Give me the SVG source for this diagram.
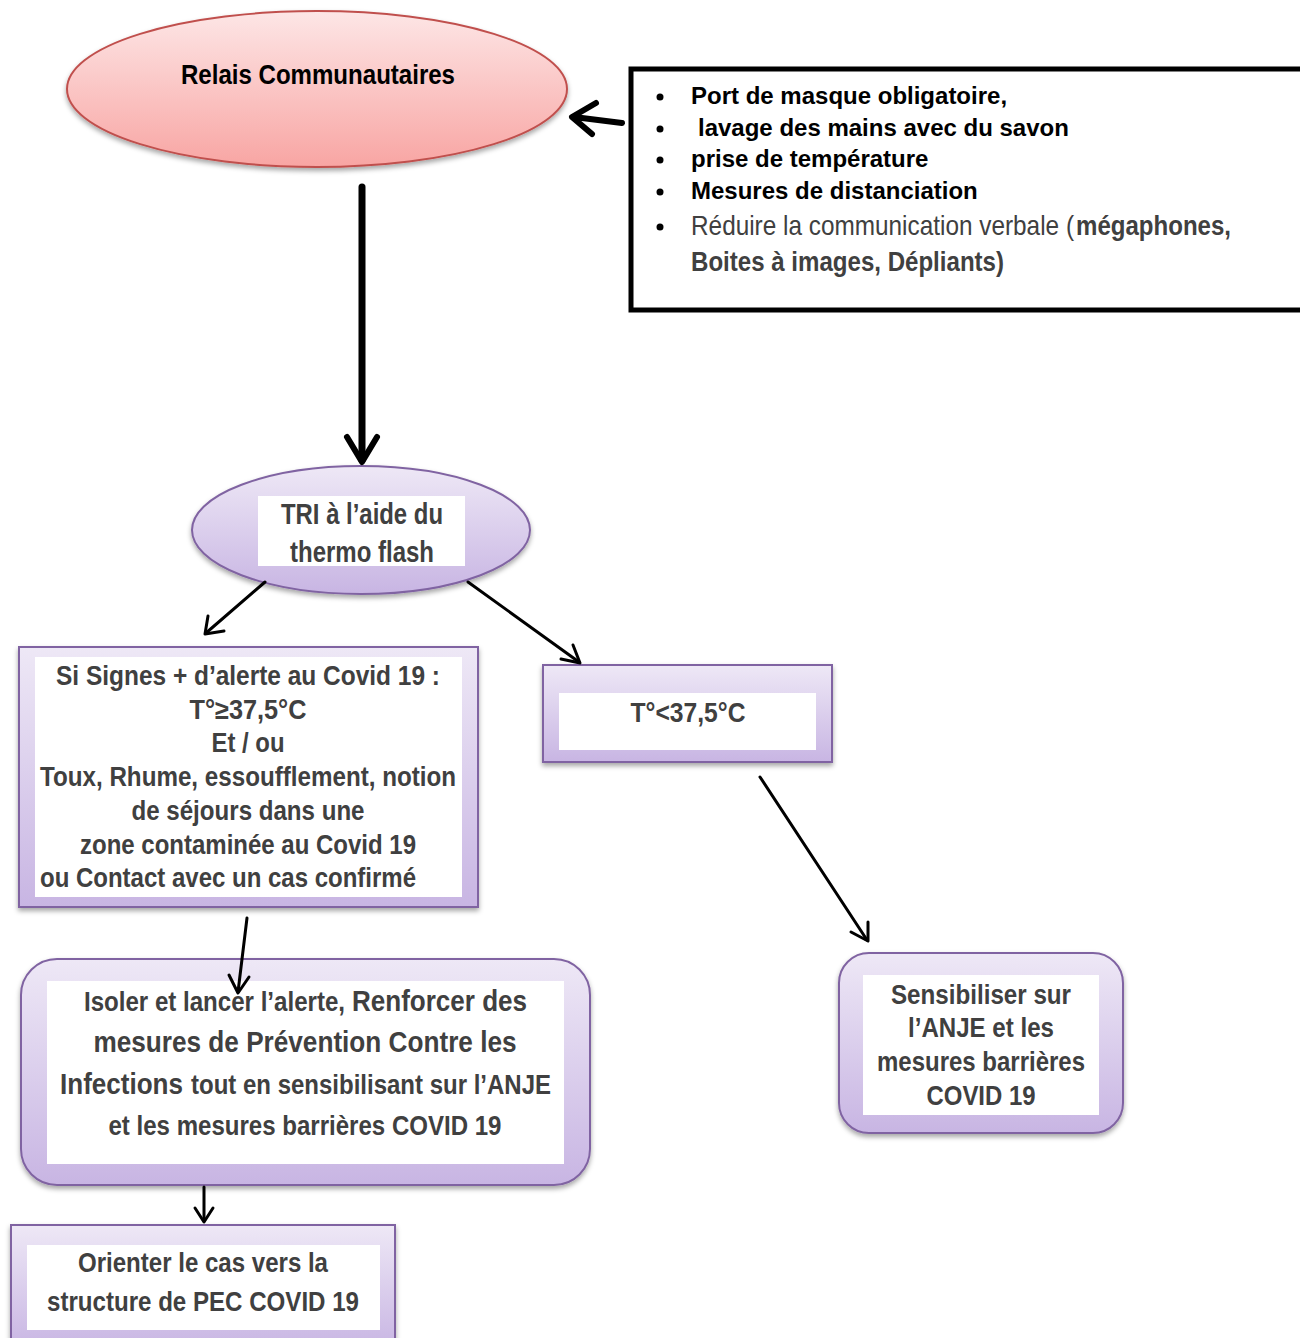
<svg xmlns="http://www.w3.org/2000/svg" width="1300" height="1338" viewBox="0 0 1300 1338">
  <style>
    .t { font-family: "Liberation Sans", Arial, sans-serif; font-weight: bold; fill: #404040; text-anchor: middle; }
    .s { text-anchor: start; }
    .blk { fill: #000; }
    .lst { font-family: "Liberation Sans", Arial, sans-serif; font-weight: bold; font-size: 24px; fill: #000; }
    .nar { font-family: "Liberation Sans", Arial, sans-serif; font-size: 28px; fill: #404040; }
    .node { fill: url(#lav); stroke: #8064A2; stroke-width: 2; filter: url(#sh); }
    .inner { fill: #fff; }
    .con { stroke: #000; fill: none; stroke-linecap: round; stroke-linejoin: round; }
  </style>
  <defs>
    <linearGradient id="lav" x1="0" y1="0" x2="0" y2="1">
      <stop offset="0" stop-color="#EEE8F6"/>
      <stop offset="1" stop-color="#C8B5E3"/>
    </linearGradient>
    <linearGradient id="pink" x1="0" y1="0" x2="0" y2="1">
      <stop offset="0" stop-color="#FDE6E6"/>
      <stop offset="1" stop-color="#F8A5A3"/>
    </linearGradient>
    <filter id="sh" x="-10%" y="-10%" width="120%" height="130%">
      <feDropShadow dx="0" dy="3" stdDeviation="2.5" flood-color="#000" flood-opacity="0.35"/>
    </filter>
  </defs>

  <!-- Relais Communautaires -->
  <g id="relais">
    <ellipse cx="317" cy="89" rx="250" ry="78" fill="url(#pink)" stroke="#C0504D" stroke-width="2" filter="url(#sh)"/>
    <text class="t blk" x="318" y="84" font-size="28" textLength="274" lengthAdjust="spacingAndGlyphs">Relais Communautaires</text>
  </g>

  <!-- barrier measures list -->
  <g id="mesures">
    <rect x="631" y="69" width="680" height="241" fill="#fff" stroke="#000" stroke-width="5"/>
    <g fill="#000">
      <circle cx="660" cy="97" r="3.5"/>
      <circle cx="660" cy="129" r="3.5"/>
      <circle cx="660" cy="160" r="3.5"/>
      <circle cx="660" cy="192" r="3.5"/>
      <circle cx="660" cy="227" r="3.5"/>
    </g>
    <text class="lst" x="691" y="104">Port de masque obligatoire,</text>
    <text class="lst" x="698" y="136">lavage des mains avec du savon</text>
    <text class="lst" x="691" y="167">prise de température</text>
    <text class="lst" x="691" y="199">Mesures de distanciation</text>
    <text class="nar" x="691" y="235" textLength="383" lengthAdjust="spacingAndGlyphs">Réduire la communication verbale  (</text>
    <text class="nar" x="1076" y="235" font-weight="bold" textLength="155" lengthAdjust="spacingAndGlyphs">mégaphones,</text>
    <text class="nar" x="691" y="271" font-weight="bold" textLength="313" lengthAdjust="spacingAndGlyphs">Boites à images, Dépliants)</text>
  </g>

  <!-- TRI -->
  <g id="tri">
    <ellipse class="node" cx="361" cy="530" rx="169" ry="64"/>
    <rect class="inner" x="258" y="496" width="207" height="70"/>
    <text class="t" x="362" y="524" font-size="29" textLength="162" lengthAdjust="spacingAndGlyphs">TRI à l’aide du</text>
    <text class="t" x="362" y="562" font-size="29" textLength="144" lengthAdjust="spacingAndGlyphs">thermo flash</text>
  </g>

  <!-- positive signs -->
  <g id="signes">
    <rect class="node" x="19" y="647" width="459" height="260"/>
    <rect class="inner" x="35" y="657" width="427" height="240"/>
    <text class="t" x="248" y="685" font-size="27" textLength="384" lengthAdjust="spacingAndGlyphs">Si Signes + d’alerte au Covid 19  :</text>
    <text class="t" x="248" y="719" font-size="27" textLength="117" lengthAdjust="spacingAndGlyphs">T°≥37,5°C</text>
    <text class="t" x="248" y="752" font-size="27" textLength="73" lengthAdjust="spacingAndGlyphs">Et / ou</text>
    <text class="t" x="248" y="786" font-size="27" textLength="416" lengthAdjust="spacingAndGlyphs">Toux, Rhume, essoufflement, notion</text>
    <text class="t" x="248" y="820" font-size="27" textLength="233" lengthAdjust="spacingAndGlyphs">de séjours dans une</text>
    <text class="t" x="248" y="854" font-size="27" textLength="336" lengthAdjust="spacingAndGlyphs">zone contaminée au Covid 19</text>
    <text class="t s" x="40" y="887" font-size="27" textLength="376" lengthAdjust="spacingAndGlyphs">ou Contact avec un cas confirmé</text>
  </g>

  <!-- normal temperature -->
  <g id="normale">
    <rect class="node" x="543" y="665" width="289" height="97"/>
    <rect class="inner" x="559" y="693" width="257" height="57"/>
    <text class="t" x="688" y="722" font-size="27" textLength="115" lengthAdjust="spacingAndGlyphs">T°&lt;37,5°C</text>
  </g>

  <!-- isolate and alert -->
  <g id="isoler">
    <rect class="node" x="21" y="959" width="569" height="226" rx="36"/>
    <rect class="inner" x="47" y="981" width="517" height="183"/>
    <text class="t s" x="84" y="1011" font-size="27" textLength="261" lengthAdjust="spacingAndGlyphs">Isoler et lancer l’alerte,</text>
    <text class="t s" x="352" y="1011" font-size="29" textLength="175" lengthAdjust="spacingAndGlyphs">Renforcer des</text>
    <text class="t" x="305" y="1052" font-size="29" textLength="423" lengthAdjust="spacingAndGlyphs">mesures de Prévention Contre les</text>
    <text class="t s" x="60" y="1094" font-size="30" textLength="123" lengthAdjust="spacingAndGlyphs">Infections</text>
    <text class="t s" x="191" y="1094" font-size="27" textLength="360" lengthAdjust="spacingAndGlyphs">tout en sensibilisant sur l’ANJE</text>
    <text class="t" x="305" y="1135" font-size="27" textLength="393" lengthAdjust="spacingAndGlyphs">et les mesures barrières COVID 19</text>
  </g>

  <!-- refer to PEC -->
  <g id="orienter">
    <rect class="node" x="11" y="1225" width="384" height="125"/>
    <rect class="inner" x="27" y="1245" width="353" height="85"/>
    <text class="t" x="203" y="1272" font-size="28" textLength="250" lengthAdjust="spacingAndGlyphs">Orienter le cas vers la</text>
    <text class="t" x="203" y="1311" font-size="28" textLength="312" lengthAdjust="spacingAndGlyphs">structure de PEC COVID 19</text>
  </g>

  <!-- awareness -->
  <g id="sensibiliser">
    <rect class="node" x="839" y="953" width="284" height="180" rx="30"/>
    <rect class="inner" x="863" y="975" width="236" height="140"/>
    <text class="t" x="981" y="1004" font-size="28" textLength="180" lengthAdjust="spacingAndGlyphs">Sensibiliser sur</text>
    <text class="t" x="981" y="1037" font-size="28" textLength="146" lengthAdjust="spacingAndGlyphs">l’ANJE et les</text>
    <text class="t" x="981" y="1071" font-size="28" textLength="208" lengthAdjust="spacingAndGlyphs">mesures barrières</text>
    <text class="t" x="981" y="1105" font-size="28" textLength="109" lengthAdjust="spacingAndGlyphs">COVID 19</text>
  </g>

  <!-- connectors -->
  <g id="connectors" class="con">
    <path d="M622 123 L574 117" stroke-width="6"/>
    <path d="M596 103 L572 117 L592 134" stroke-width="6"/>
    <path d="M362 187 L362 460" stroke-width="7"/>
    <path d="M347 437 L362 462 L377 437" stroke-width="6"/>
    <path d="M265 582 L206 633" stroke-width="3"/>
    <path d="M208 616 L205 634 L224 631" stroke-width="3"/>
    <path d="M468 582 L579 662" stroke-width="3"/>
    <path d="M561 659 L580 663 L573 645" stroke-width="3"/>
    <path d="M760 777 L867 940" stroke-width="3"/>
    <path d="M851 932 L868 941 L868 922" stroke-width="3"/>
    <path d="M247 918 L238 992" stroke-width="3"/>
    <path d="M229 975 L238 993 L249 977" stroke-width="3"/>
    <path d="M204 1187 L204 1221" stroke-width="3"/>
    <path d="M195 1208 L204 1222 L213 1208" stroke-width="3"/>
  </g>
</svg>
